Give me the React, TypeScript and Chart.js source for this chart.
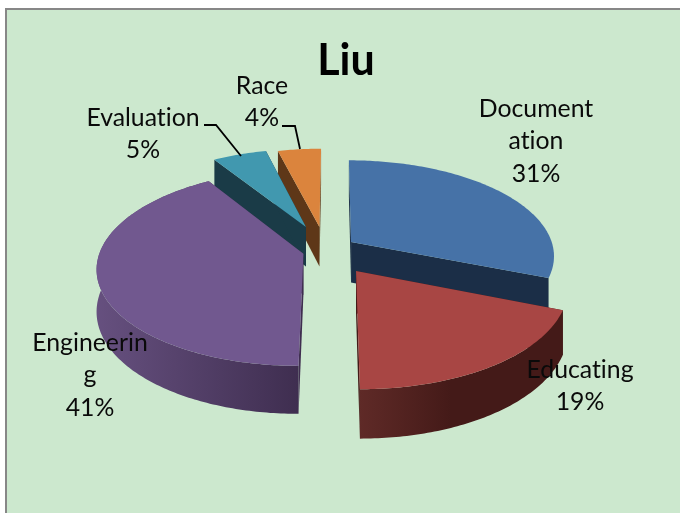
import React, { useEffect, useRef } from "react";
import { Chart, registerables } from "chart.js";

Chart.register(...registerables);

const categories = ["Documentation", "Educating", "Engineering", "Evaluation", "Race"];
const values = [31, 19, 41, 5, 4];
const titleText = "Liu";

// Wrapped label names as Excel broke them
const labelLines = [["Document", "ation"], ["Educating"], ["Engineerin", "g"], ["Evaluation"], ["Race"]];

const topColors = ["#4672A7", "#A84644", "#71588F", "#4198AF", "#DB843D"];
const wallLeft = ["#1B2E47", "#5F2A27", "#66507F", "#1A3B47", "#5E3718"];
const wallRight = ["#1B2E47", "#441A18", "#3F2E50", "#1A3B47", "#5E3718"];
const rimVisible = [false, true, true, false, false];

// Layout / projection constants
const W = 680;
const H = 513;
const X0 = 333;
const F = 203;
const VANISH_Y = -430;
const DIST = 680;
const PERSP = 0.14;
const DEPTH = 41;
const explodeX = [0.09, 0.11, -0.145, -0.138, -0.069];
const explodeY = [-0.085, 0.214, 0.04, -0.25, -0.25];
const paintOrder = [4, 3, 0, 2, 1];
const labelCx = [536, 580, 90, 143, 262];
const labelY = [109, 370, 343, 118, 86];
const LINE = 32.5;
const LABEL_FONT = "24.8px Lato, Carlito, 'Open Sans', sans-serif";
const leaders = [
  [[204, 125], [216, 125], [241, 156]],
  [[282, 126], [295, 126], [300, 149]],
];

function project(X: number, Y: number, z = 0): [number, number] {
  const w = 1 / (1 - PERSP * Y);
  return [X0 + F * X * w, VANISH_Y + DIST * w + z * w];
}

function poly(ctx: CanvasRenderingContext2D, pts: [number, number][]) {
  ctx.beginPath();
  pts.forEach((p, i) => (i ? ctx.lineTo(p[0], p[1]) : ctx.moveTo(p[0], p[1])));
  ctx.closePath();
}

const frame = {
  id: "frame",
  beforeDraw(chart: any) {
    const { ctx } = chart;
    ctx.save();
    ctx.fillStyle = "#FFFFFF";
    ctx.fillRect(0, 0, W, H);
    ctx.fillStyle = "#878787";
    ctx.fillRect(5, 8, W - 5, H - 8);
    ctx.fillStyle = "#CCE8CE";
    ctx.fillRect(7, 10, W - 7, H - 10);
    ctx.restore();
  },
};

const pie3d = {
  id: "pie3d",
  beforeDatasetsDraw(chart: any) {
    const { ctx } = chart;
    const arcs = chart.getDatasetMeta(0).data;
    ctx.save();
    paintOrder.forEach((i) => {
      const a0 = arcs[i].startAngle + Math.PI / 2;
      const a1 = arcs[i].endAngle + Math.PI / 2;
      const ex = explodeX[i];
      const ey = explodeY[i];
      const n = Math.max(2, Math.ceil((a1 - a0) / 0.015));
      const rim: [number, number][] = [];
      const rimLow: [number, number][] = [];
      for (let k = 0; k <= n; k++) {
        const t = a0 + ((a1 - a0) * k) / n;
        const X = Math.sin(t) + ex;
        const Y = -Math.cos(t) + ey;
        rim.push(project(X, Y));
        rimLow.push(project(X, Y, DEPTH));
      }
      const apex = project(ex, ey);
      const apexLow = project(ex, ey, DEPTH);
      const xs = rim.concat(rimLow).map((p) => p[0]);
      const g = ctx.createLinearGradient(Math.min(...xs), 0, Math.max(...xs), 0);
      g.addColorStop(0, wallLeft[i]);
      g.addColorStop(i === 1 ? 0.45 : 1, wallRight[i]);
      g.addColorStop(1, wallRight[i]);

      // radial faces
      ctx.fillStyle = wallRight[i];
      poly(ctx, [apex, rim[0], rimLow[0], apexLow]);
      ctx.fill();
      poly(ctx, [apex, rim[n], rimLow[n], apexLow]);
      ctx.fill();
      // rim face
      if (rimVisible[i]) {
        ctx.fillStyle = g;
        poly(ctx, rim.concat(rimLow.slice().reverse()));
        ctx.fill();
      }
      // top
      ctx.fillStyle = topColors[i];
      poly(ctx, [apex, ...rim]);
      ctx.fill();
    });
    ctx.restore();
    return false;
  },
  afterDraw(chart: any) {
    const { ctx } = chart;
    ctx.save();
    ctx.strokeStyle = "#000000";
    ctx.lineWidth = 1.8;
    leaders.forEach((l) => {
      ctx.beginPath();
      l.forEach((p, k) => (k ? ctx.lineTo(p[0], p[1]) : ctx.moveTo(p[0], p[1])));
      ctx.stroke();
    });
    ctx.fillStyle = "#0A0A0A";
    ctx.font = LABEL_FONT;
    ctx.textRendering = "optimizeSpeed";
    ctx.textAlign = "center";
    ctx.textBaseline = "middle";
    categories.forEach((_, i) => {
      const lines = [...labelLines[i], `${values[i]}%`];
      lines.forEach((s, k) => ctx.fillText(s, labelCx[i], labelY[i] + k * LINE));
    });
    ctx.restore();
  },
};

export default function App() {
  const ref = useRef<HTMLCanvasElement | null>(null);
  useEffect(() => {
    document.body.style.margin = "0";
    const chart = new Chart(ref.current as HTMLCanvasElement, {
      type: "pie",
      data: {
        labels: categories,
        datasets: [{ data: values, backgroundColor: topColors, borderWidth: 0 }],
      },
      options: {
        responsive: false,
        animation: false,
        events: [],
        layout: { padding: { left: 12, top: 35 } },
        plugins: {
          legend: { display: false },
          tooltip: { enabled: false },
          title: {
            display: true,
            text: titleText,
            color: "#000000",
            font: { family: "Lato, Carlito, sans-serif", size: 43, weight: "bold" },
            padding: 0,
          },
        },
      },
      plugins: [frame, pie3d],
    });
    return () => chart.destroy();
  }, []);
  return <canvas ref={ref} width={W} height={H} style={{ display: "block" }} />;
}
